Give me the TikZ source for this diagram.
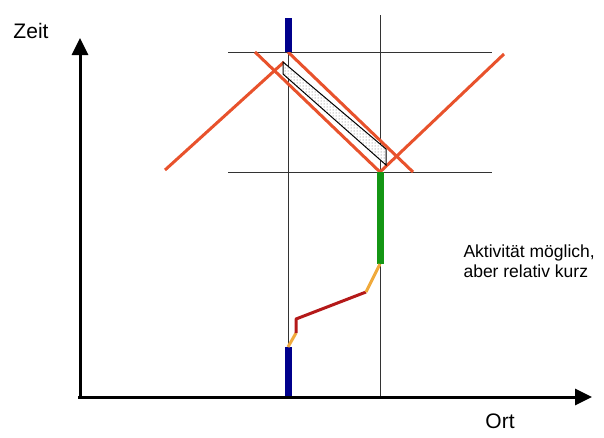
\documentclass[tikz,border=0pt]{standalone}
\usepackage{fontspec}
\setmainfont{Liberation Sans}
\usetikzlibrary{arrows.meta,patterns}
\definecolor{kegel}{RGB}{232,82,44}
\definecolor{weltblau}{RGB}{0,0,140}
\definecolor{weltgruen}{RGB}{20,150,20}
\definecolor{uebergang}{RGB}{240,170,60}
\definecolor{weltrot}{RGB}{180,25,25}
\tikzset{
  hilfslinie/.style={draw=black!80,line width=1pt},
  lichtkegel/.style={draw=kegel,line width=3pt},
  weltlinie/.style={line width=7pt},
  achse/.style={->,line width=3pt}
}
\begin{document}
\begin{tikzpicture}[x=1pt,y=-1pt,>={Triangle[length=17pt,width=16pt]}]
\useasboundingbox (0,0) rectangle (604,437);

\coordinate (A) at (288,52);
\coordinate (B) at (380,172);

\draw[hilfslinie] (228,52) -- (492,52);
\draw[hilfslinie] (228,172) -- (492,172);
\draw[hilfslinie] (A) -- (288,397);
\draw[hilfslinie] (380,15) -- (380,397);

\draw[lichtkegel] (165,170) -- (284,62);
\draw[lichtkegel] (255,52) -- (B);
\draw[lichtkegel] (A) -- (413,172);
\draw[lichtkegel] (B) -- (504,54);

\draw[line width=1pt,preaction={fill=white},pattern=dots,pattern color=black!60]
  (283,62) -- (386,149) -- (386,165) -- (283,74) -- cycle;

\draw[weltlinie,weltblau] (288,18) -- (A);
\draw[weltlinie,weltblau] (288,347) -- (288,397);
\draw[weltlinie,weltgruen] (B) -- (380,264);
\draw[uebergang,line width=3pt] (288,347) -- (296,333);
\draw[weltrot,line width=3pt,line join=round] (296,333) -- (296,319) -- (366,292);
\draw[uebergang,line width=3pt] (366,292) -- (380,264);

\draw[achse] (80,399) -- (80,38);
\draw[achse] (78,397) -- (592,397);

\node[font=\fontsize{21}{24}\selectfont] (zeit) at (31,31) {Zeit};
\node[font=\fontsize{21}{24}\selectfont] (ort) at (500,421) {Ort};
\node[font=\fontsize{17.5}{20.5}\selectfont,align=left,anchor=west] (notiz) at (460,261)
  {Aktivität möglich,\\aber relativ kurz};
\end{tikzpicture}
\end{document}
